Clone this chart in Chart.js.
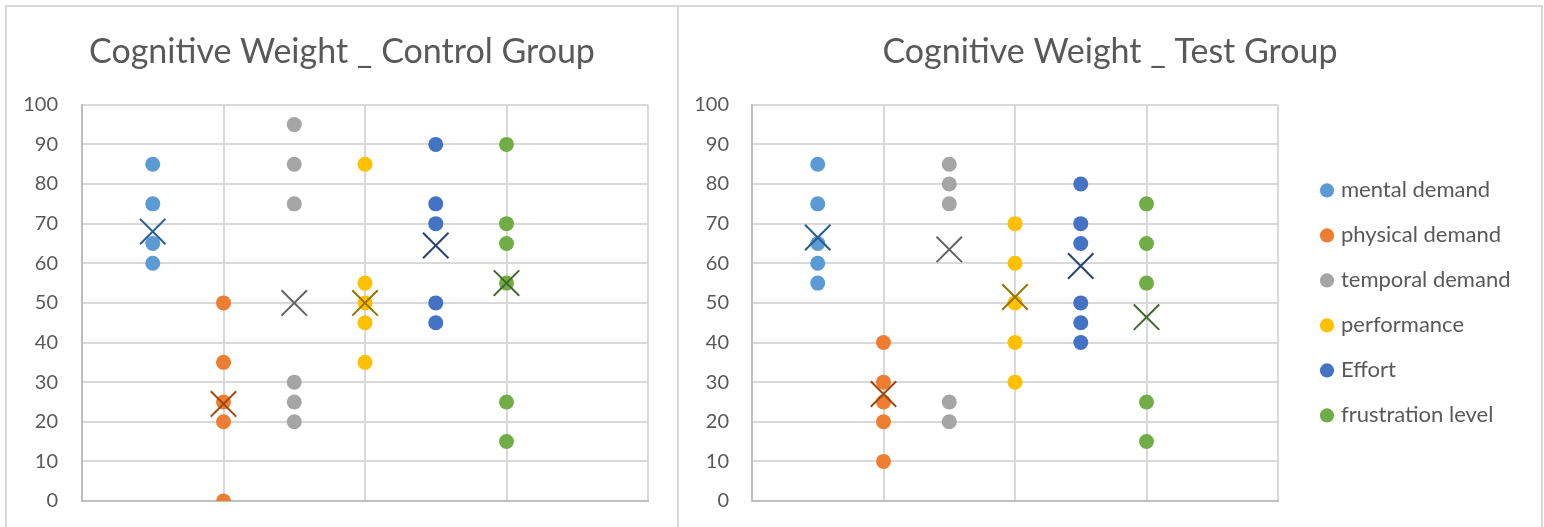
<!DOCTYPE html>
<html>
<head>
<meta charset="utf-8">
<title>Cognitive Weight</title>
<script src="https://cdn.jsdelivr.net/npm/chart.js@4.4.1/dist/chart.umd.min.js"></script>
<style>
  html, body { margin: 0; padding: 0; background: #fff; overflow: hidden; }
  .panel { position: absolute; top: 5px; height: 600px; box-sizing: border-box; border: 2px solid #d9d9d9; }
  canvas { position: absolute; top: 0; }
</style>
</head>
<body>
<div class="panel" style="left:5px;width:674px"></div>
<div class="panel" style="left:677px;width:866px"></div>
<canvas id="control" width="678" height="527" style="left:0"></canvas>
<canvas id="test" width="866" height="527" style="left:678px"></canvas>
<script>
const categories = ['mental demand', 'physical demand', 'temporal demand', 'performance', 'Effort', 'frustration level'];

// scores, one list per category
const controlScores = [
    [85, 75, 65, 60],
    [50, 35, 25, 20, 0],
    [95, 85, 75, 30, 25, 20],
    [85, 55, 50, 45, 35],
    [90, 75, 70, 50, 45],
    [90, 70, 65, 55, 25, 15]
];
const controlMeans = [68, 24.5, 50, 50, 64.5, 55];

const testScores = [
    [85, 75, 65, 60, 55],
    [40, 30, 25, 20, 10],
    [85, 80, 75, 25, 20],
    [70, 60, 50, 40, 30],
    [80, 70, 65, 50, 45, 40],
    [75, 65, 55, 25, 15]
];
const testMeans = [66.5, 27, 63.5, 51.5, 59.3, 46.4];

const yTicks = [0, 10, 20, 30, 40, 50, 60, 70, 80, 90, 100];
const xGrid = [0, 2, 4, 6, 8];

const dotColors = ['#5b9bd5', '#ed7d31', '#a5a5a5', '#ffc000', '#4472c4', '#70ad47'];
const meanColors = ['#255e91', '#9e480e', '#636363', '#997300', '#264478', '#43682b'];

Chart.defaults.font.family = 'Lato';
Chart.defaults.color = '#595959';

// slides the title and legend after layout, the plot area stays put
const boxShift = {
    id: 'boxShift',
    afterLayout(chart, args, opts) {
        const title = chart.titleBlock;
        if (title && opts.titleDx) {
            title.left += opts.titleDx;
            title.right += opts.titleDx;
        }
        const legend = chart.legend;
        if (legend && opts.legendDx) {
            // a chartArea legend starts at y=0, so drop it onto the plot
            const dy = chart.chartArea.top;
            legend.left += opts.legendDx;
            legend.right += opts.legendDx;
            legend.top += dy;
            legend.bottom += dy;
        }
    }
};

function buildDatasets(scores, means) {
    const sets = categories.map((name, i) => ({
        label: name,
        data: scores[i].map(v => ({ x: i + 1, y: v })),
        backgroundColor: dotColors[i],
        borderColor: dotColors[i],
        pointStyle: 'circle',
        pointRadius: 7.5,
        pointBorderWidth: 0,
        showLine: false,
        order: 1
    }));
    sets.push({
        label: 'mean',
        data: means.map((v, i) => ({ x: i + 1, y: v })),
        pointStyle: 'crossRot',
        pointRadius: 18,
        pointBorderWidth: 2,
        pointBorderColor: meanColors,
        pointBackgroundColor: 'rgba(0,0,0,0)',
        showLine: false,
        order: 0
    });
    return sets;
}

function makeChart(id, title, scores, means, layout) {
    const ctx = document.getElementById(id).getContext('2d');
    return new Chart(ctx, {
        type: 'scatter',
        data: { datasets: buildDatasets(scores, means) },
        plugins: [boxShift],
        options: {
            responsive: false,
            animation: false,
            events: [],
            layout: { padding: layout.padding },
            scales: {
                x: {
                    type: 'linear',
                    min: 0,
                    max: 8,
                    afterBuildTicks: s => { s.ticks = xGrid.map(v => ({ value: v })); },
                    ticks: { display: false },
                    grid: { color: '#d9d9d9', lineWidth: 2, drawTicks: false },
                    border: { color: '#bfbfbf', width: 2 }
                },
                y: {
                    min: 0,
                    max: 100,
                    afterBuildTicks: s => { s.ticks = yTicks.map(v => ({ value: v })); },
                    afterFit: s => { s.width = layout.axisWidth; },
                    ticks: { padding: 2, font: { size: 20 }, color: '#595959' },
                    // invisible tick marks push the labels away from the axis
                    grid: {
                        color: '#d9d9d9',
                        lineWidth: 2,
                        drawTicks: true,
                        tickLength: layout.tickGap,
                        tickColor: 'rgba(0,0,0,0)'
                    },
                    border: { color: '#bfbfbf', width: 2 }
                }
            },
            plugins: {
                title: {
                    display: true,
                    text: title,
                    color: '#595959',
                    font: { size: 34, weight: 'normal', lineHeight: 1.2 },
                    padding: { top: 32, bottom: 32 }
                },
                legend: {
                    display: layout.legend,
                    position: 'chartArea',
                    labels: {
                        usePointStyle: true,
                        pointStyle: 'circle',
                        boxWidth: 6,
                        boxHeight: 10,
                        padding: 23,
                        color: '#595959',
                        font: { size: 22 },
                        filter: item => item.datasetIndex < categories.length
                    }
                },
                boxShift: { titleDx: layout.titleDx, legendDx: layout.legendDx || 0 },
                tooltip: { enabled: false }
            }
        }
    });
}

makeChart('control', 'Cognitive Weight _ Control Group', controlScores, controlMeans, {
    padding: { left: 0, right: 30, top: 0, bottom: 26 },
    axisWidth: 82,
    tickGap: 22,
    titleDx: 18,
    legend: false
});

makeChart('test', 'Cognitive Weight _ Test Group', testScores, testMeans, {
    padding: { left: 0, right: 266, top: 0, bottom: 26 },
    axisWidth: 74,
    tickGap: 21,
    titleDx: 132,
    legend: true,
    legendDx: 549
});
</script>
</body>
</html>
